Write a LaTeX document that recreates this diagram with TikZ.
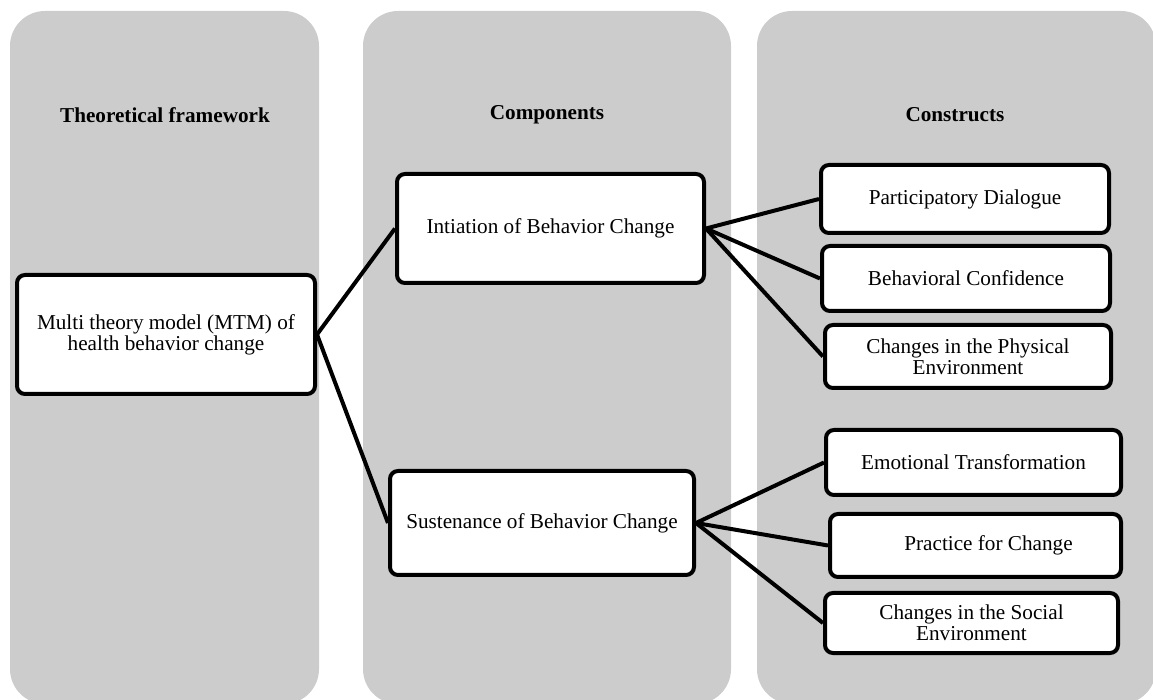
\documentclass[tikz,border=0pt]{standalone}
\usepackage{fontspec}
\setmainfont{Liberation Serif}

\begin{document}
\begin{tikzpicture}[x=0.5pt,y=-0.5pt,
panel/.style={fill=black!20,rounded corners=17.5pt},
head/.style={font=\fontsize{10.6}{10.5}\selectfont\bfseries},
box/.style={draw,line width=2pt,fill=white,rounded corners=4pt,align=center,
  inner sep=2pt,font=\fontsize{10.6}{10.5}\selectfont},
link/.style={line width=2pt}]
\useasboundingbox (0,0) rectangle (1153,700);
\fill[panel] (10,11) rectangle (319,704);
\fill[panel] (363,11) rectangle (731,704);
\fill[panel] (757,11) rectangle (1156,704);
\node[head] (hframe) at (165,115) {Theoretical framework};
\node[head] (hcomp) at (547,115) {Components};
\node[head] (hcons) at (955,115) {Constructs};
\node[box,minimum width=149pt,minimum height=59.5pt] (mtm) at (166,334.5)
  {Multi theory model (MTM) of\\health behavior change};
\node[box,minimum width=153.5pt,minimum height=54.5pt] (init) at (550.5,228.5)
  {Intiation of Behavior Change};
\node[box,minimum width=152pt,minimum height=52pt] (sust) at (542,523)
  {Sustenance of Behavior Change};
\node[box,minimum width=144pt,minimum height=34pt] (dial) at (965,199)
  {Participatory Dialogue};
\node[box,minimum width=144pt,minimum height=32.5pt] (conf) at (966,278.5)
  {Behavioral Confidence};
\node[box,minimum width=143pt,minimum height=31.5pt] (phys) at (968,356.5)
  {Changes in the Physical\\Environment};
\node[box,minimum width=147.5pt,minimum height=32.5pt] (emot) at (973.5,462.5)
  {Emotional Transformation};
\node[box,minimum width=145.5pt,minimum height=31.5pt] (prac) at (975.5,545.5)
  {\hspace*{13pt}Practice for Change};
\node[box,minimum width=146.5pt,minimum height=30pt] (soc) at (971.5,623)
  {Changes in the Social\\Environment};
\draw[link] (mtm.east) -- (init.west);
\draw[link] (mtm.east) -- (sust.west);
\foreach \c in {dial,conf,phys}
  \draw[link] (init.east) -- (\c.west);
\foreach \c in {emot,prac,soc}
  \draw[link] (sust.east) -- (\c.west);
\end{tikzpicture}
\end{document}
